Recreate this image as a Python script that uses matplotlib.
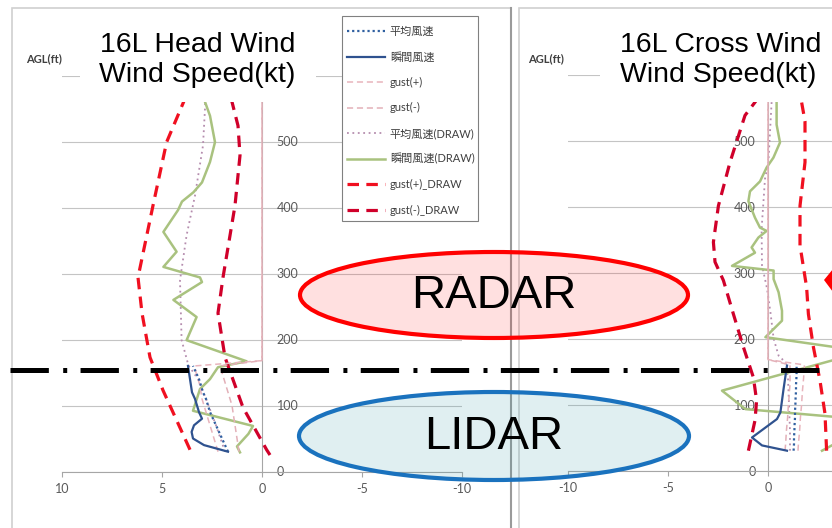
import matplotlib
matplotlib.use("Agg")
import matplotlib.pyplot as plt
from matplotlib.patches import Ellipse, Rectangle, Polygon
from matplotlib.lines import Line2D

plt.rcParams["font.family"] = ["Lato", "Noto Sans CJK JP", "DejaVu Sans"]
plt.rcParams["axes.unicode_minus"] = False

W, H = 832, 528

# ---------------- data (wind speed in kt, height AGL in ft) ----------------
lidar_agl = [30, 40, 50, 60, 70, 80, 90, 100, 110, 120, 130, 140, 150, 160]
gust_agl = [30, 40, 50, 60, 70, 80, 90, 100, 110, 120, 130, 140, 150, 160, 168, 600]
agl_ticks = [0, 100, 200, 300, 400, 500, 600]
agl_labels = ["0", "100", "200", "300", "400", "500", ""]   # 600 sits under the title
kt_ticks = [-10, -5, 0, 5, 10]

# 16L head wind
head_mean = [1.7, 1.85, 2.0, 2.15, 2.3, 2.45, 2.6, 2.7, 2.8, 2.95, 3.05, 3.15, 3.3, 3.45]
head_inst = [1.7, 2.9, 3.45, 3.52, 3.4, 3.0, 3.15, 3.25, 3.35, 3.5, 3.55, 3.6, 3.65, 3.7]
head_gust_p = [2.2, 2.3, 2.4, 2.5, 2.6, 2.7, 2.8, 2.9, 3.0, 3.05, 3.1, 3.2, 3.3, 3.35, 0, 0]
head_gust_m = [1.15, 1.2, 1.25, 1.3, 1.35, 1.4, 1.45, 1.5, 1.6, 1.7, 1.8, 1.9, 2.0, 2.1, 0, 0]

head_draw_mean_agl = [30, 70, 110, 140, 161, 199, 290, 358, 418, 494, 550, 600]
head_draw_mean = [1.85, 2.3, 2.8, 3.2, 3.68, 4.02, 4.1, 3.77, 3.35, 2.95, 2.85, 2.8]
head_draw_inst_agl = [29, 38, 57, 69, 92, 125, 140, 158, 167, 199, 234, 260, 287, 294,
                      310, 333, 363, 396, 409, 423, 438, 469, 499, 539, 560, 600]
head_draw_inst = [1.1, 1.25, 0.68, 0.45, 3.45, 3.1, 2.6, 2.2, 0.77, 3.77, 3.27, 4.43, 3.0, 3.1,
                  4.93, 4.27, 4.93, 4.2, 4.0, 3.43, 3.0, 2.6, 2.35, 2.6, 2.85, 3.0]
head_draw_gp_agl = [33, 123, 173, 240, 294, 403, 499, 547, 590]
head_draw_gp = [3.6, 4.95, 5.6, 6.0, 6.2, 5.45, 4.77, 4.1, 3.5]
head_draw_gm_agl = [25, 33, 97, 173, 240, 294, 403, 479, 524, 560, 590]
head_draw_gm = [-0.4, -0.23, 0.95, 1.85, 2.2, 1.95, 1.35, 1.1, 1.2, 1.5, 1.9]

# 16L cross wind
cross_mean = [1.28, 1.3, 1.3, 1.32, 1.33, 1.35, 1.35, 1.37, 1.38, 1.4, 1.4, 1.42, 1.43, 1.43]
cross_inst_agl = [30, 38, 50, 78, 88, 124, 159]
cross_inst = [0.95, -0.3, -0.8, 0.45, 0.62, 0.78, 0.95]
cross_gust_p = [1.5, 1.52, 1.55, 1.58, 1.6, 1.62, 1.65, 1.68, 1.7, 1.72, 1.75, 1.78, 1.8, 1.82, 0, 0]
cross_gust_m = [0.85, 0.88, 0.9, 0.92, 0.95, 0.98, 1.0, 1.02, 1.05, 1.07, 1.1, 1.1, 1.1, 1.1, 0, 0]

cross_draw_mean_agl = [30, 60, 100, 140, 164, 174, 200, 240, 276, 311, 366, 442, 467, 558, 600]
cross_draw_mean = [1.1, 1.1, 1.05, 1.0, 0.87, 0.53, 0.28, 0.12, -0.05, -0.3, -0.32, -0.15, 0.02, 0.18, 0.2]
cross_draw_inst_agl = [30, 43, 79, 93, 121, 170, 185, 202, 227, 242, 270, 290, 303, 310, 330, 338,
                       353, 363, 368, 383, 408, 423, 438, 459, 474, 497, 524, 558, 600]
cross_draw_inst = [2.7, 3.5, 4.2, -1.13, -2.3, 3.6, 3.8, -0.13, 0.7, 0.7, 0.53, 0.28, 0.28, -1.8, -0.65, -0.82,
                   -0.48, -0.07, -0.4, -0.65, -0.98, -0.9, -0.4, -0.07, 0.27, 0.6, 0.43, 0.43, 0.4]
cross_draw_gp_agl = [30, 86, 136, 187, 237, 278, 293, 341, 401, 467, 529, 558, 590]
cross_draw_gp = [2.93, 2.85, 2.6, 2.27, 2.02, 1.93, 1.85, 1.6, 1.6, 1.85, 1.85, 1.68, 1.3]
cross_draw_gm_agl = [30, 76, 106, 141, 187, 237, 288, 316, 346, 401, 467, 538, 558, 590]
cross_draw_gm = [-0.98, -0.65, -0.57, -0.73, -1.23, -1.73, -2.23, -2.65, -2.73, -2.48, -1.9, -1.15, -0.65, 0.1]

labels = ["平均風速", "瞬間風速", "gust(+)", "gust(-)",
          "平均風速(DRAW)", "瞬間風速(DRAW)", "gust(+)_DRAW", "gust(-)_DRAW"]

styles = {
    "mean": dict(color="#2F5FA0", lw=1.6, ls=(0, (1, 1.3))),
    "inst": dict(color="#2F528F", lw=1.6, ls="-"),
    "gp": dict(color="#E8B4BC", lw=1.1, ls=(0, (4, 2.5))),
    "gm": dict(color="#E3B0B8", lw=1.1, ls=(0, (4, 2.5))),
    "dmean": dict(color="#B58DAE", lw=1.3, ls=(0, (1, 2))),
    "dinst": dict(color="#A9C27F", lw=1.8, ls="-"),
    "dgp": dict(color="#F01020", lw=2.3, ls=(0, (3.6, 2.3))),
    "dgm": dict(color="#D0002A", lw=2.3, ls=(0, (3.6, 2.3))),
}


def px(x, y):
    return x / W, 1 - y / H


def draw_series(ax, mean, inst_h, inst, gp, gm, dm_h, dm, di_h, di, dgp_h, dgp, dgm_h, dgm):
    ax.plot(dm, dm_h, **styles["dmean"], zorder=3)
    ax.plot(di, di_h, **styles["dinst"], zorder=3)
    ax.plot(dgp, dgp_h, **styles["dgp"], zorder=4)
    ax.plot(dgm, dgm_h, **styles["dgm"], zorder=4)
    ax.plot(gp, gust_agl, **styles["gp"], zorder=5)
    ax.plot(gm, gust_agl, **styles["gm"], zorder=5)
    ax.plot(mean, lidar_agl, **styles["mean"], zorder=6)
    ax.plot(inst, inst_h, **styles["inst"], zorder=6)


def style_axis(ax, yside, xlabels):
    for s in ax.spines.values():
        s.set_visible(False)
    ax.set_facecolor("none")
    ax.spines["bottom"].set_visible(True)
    ax.spines["bottom"].set_color("#A6A6A6")
    sp = ax.spines[yside]
    sp.set_visible(True)
    sp.set_position(("data", 0))
    sp.set_color("#A6A6A6")
    if yside == "right":
        ax.yaxis.tick_right()
        ypad = 10.5
    else:
        ax.yaxis.tick_left()
        ypad = 9.0
    ax.set_ylim(0, 600)
    ax.set_yticks(agl_ticks, agl_labels)
    ax.set_xticks(kt_ticks, xlabels)
    ax.tick_params(axis="y", length=0, pad=ypad, labelsize=9, labelcolor="#595959")
    ax.tick_params(axis="x", length=3.5, width=0.8, color="#A6A6A6", pad=4.5,
                   labelsize=9, labelcolor="#595959")
    ax.grid(axis="y", color="#C4C4C4", lw=0.8)
    ax.set_axisbelow(True)


fig = plt.figure(figsize=(W / 100, H / 100), dpi=100)

# panel frames
fig.add_artist(Rectangle(px(12, 540), (511 - 12) / W, 532 / H, transform=fig.transFigure,
                         fill=False, ec="#D0D0D0", lw=1.2, zorder=-2))
fig.add_artist(Line2D([511 / W, 511 / W], [1 - 8 / H, 0], transform=fig.transFigure,
                      color="#9A9A9A", lw=1.5, zorder=-1))
fig.add_artist(Rectangle(px(519, 540), 400 / W, 532 / H, transform=fig.transFigure,
                         fill=False, ec="#D0D0D0", lw=1.2, zorder=-2))

# left chart: head wind (x reversed)
axL = fig.add_axes([62 / W, 1 - 471.5 / H, 400 / W, 396 / H])
axL.set_xlim(10, -10)
style_axis(axL, "right", [str(v) for v in kt_ticks])
draw_series(axL, head_mean, lidar_agl, head_inst, head_gust_p, head_gust_m,
            head_draw_mean_agl, head_draw_mean, head_draw_inst_agl, head_draw_inst,
            head_draw_gp_agl, head_draw_gp, head_draw_gm_agl, head_draw_gm)

# right chart: cross wind (cut at the right edge of the slide)
axR = fig.add_axes([568 / W, 1 - 470.5 / H, 400 / W, 396 / H])
axR.set_xlim(-10, 10)
style_axis(axR, "left", [str(v) if v <= 0 else "" for v in kt_ticks])
draw_series(axR, cross_mean, cross_inst_agl, cross_inst, cross_gust_p, cross_gust_m,
            cross_draw_mean_agl, cross_draw_mean, cross_draw_inst_agl, cross_draw_inst,
            cross_draw_gp_agl, cross_draw_gp, cross_draw_gm_agl, cross_draw_gm)

# title boxes covering the top of the plot areas
fig.add_artist(Rectangle(px(80, 102), 236 / W, 84 / H, transform=fig.transFigure,
                         fc="white", ec="none", zorder=5))
fig.add_artist(Rectangle(px(600, 102), 240 / W, 84 / H, transform=fig.transFigure,
                         fc="white", ec="none", zorder=5))
tfont = dict(family="Liberation Sans", fontsize=20.5, color="black", zorder=6)
fig.text(*px(197.5, 52), "16L Head Wind", ha="center", va="baseline", **tfont)
fig.text(*px(197.5, 82), "Wind Speed(kt)", ha="center", va="baseline", **tfont)
fig.text(*px(620, 52), "16L Cross Wind", ha="left", va="baseline", **tfont)
fig.text(*px(620, 82), "Wind Speed(kt)", ha="left", va="baseline", **tfont)

for xc in (44, 546):
    fig.text(*px(xc, 59), "AGL(ft)", ha="center", va="center", fontsize=8,
             weight="bold", color="#404040")

# legend (frame drawn separately so its padding can match)
fig.add_artist(Rectangle(px(342, 221), 136 / W, 205 / H, transform=fig.transFigure,
                         fc="white", ec="#808080", lw=0.8, zorder=7))
handles = axL.get_lines()
order = [6, 7, 4, 5, 0, 1, 2, 3]
leg = fig.legend([handles[i] for i in order], labels, loc="upper left",
                 bbox_to_anchor=(347 / W, 1 - 26 / H), bbox_transform=fig.transFigure,
                 borderaxespad=0, frameon=False,
                 prop={"family": ["Lato", "Noto Sans CJK JP"], "size": 8},
                 labelcolor="#404040", handlelength=3.4, handletextpad=0.45,
                 labelspacing=1.3, borderpad=0)
leg.set_zorder(7.5)

# annotations
fig.add_artist(Ellipse(px(494, 295), 388 / W, 86 / H, transform=fig.transFigure,
                       fc=(1, 0, 0, 0.12), ec="#FF0000", lw=3, zorder=8))
fig.add_artist(Ellipse(px(494, 436), 390 / W, 88 / H, transform=fig.transFigure,
                       fc=(0.2, 0.6, 0.65, 0.15), ec="#1A72BE", lw=3, zorder=8))
fig.text(*px(494, 296), "RADAR", ha="center", va="center", family="Liberation Sans",
         fontsize=34, color="black", zorder=9)
fig.text(*px(494, 437), "LIDAR", ha="center", va="center", family="Liberation Sans",
         fontsize=34, color="black", zorder=9)
fig.add_artist(Line2D([10 / W, 1], [1 - 370 / H] * 2, transform=fig.transFigure,
                      color="black", lw=3.6, ls=(0, (7.67, 2.87, 0.8, 2.67)), zorder=8))
fig.add_artist(Polygon([px(824, 280), px(833, 269), px(833, 292)], closed=True,
                       transform=fig.transFigure, fc="#FF0000", ec="none", zorder=9))

fig.savefig("out.png", dpi=100)
